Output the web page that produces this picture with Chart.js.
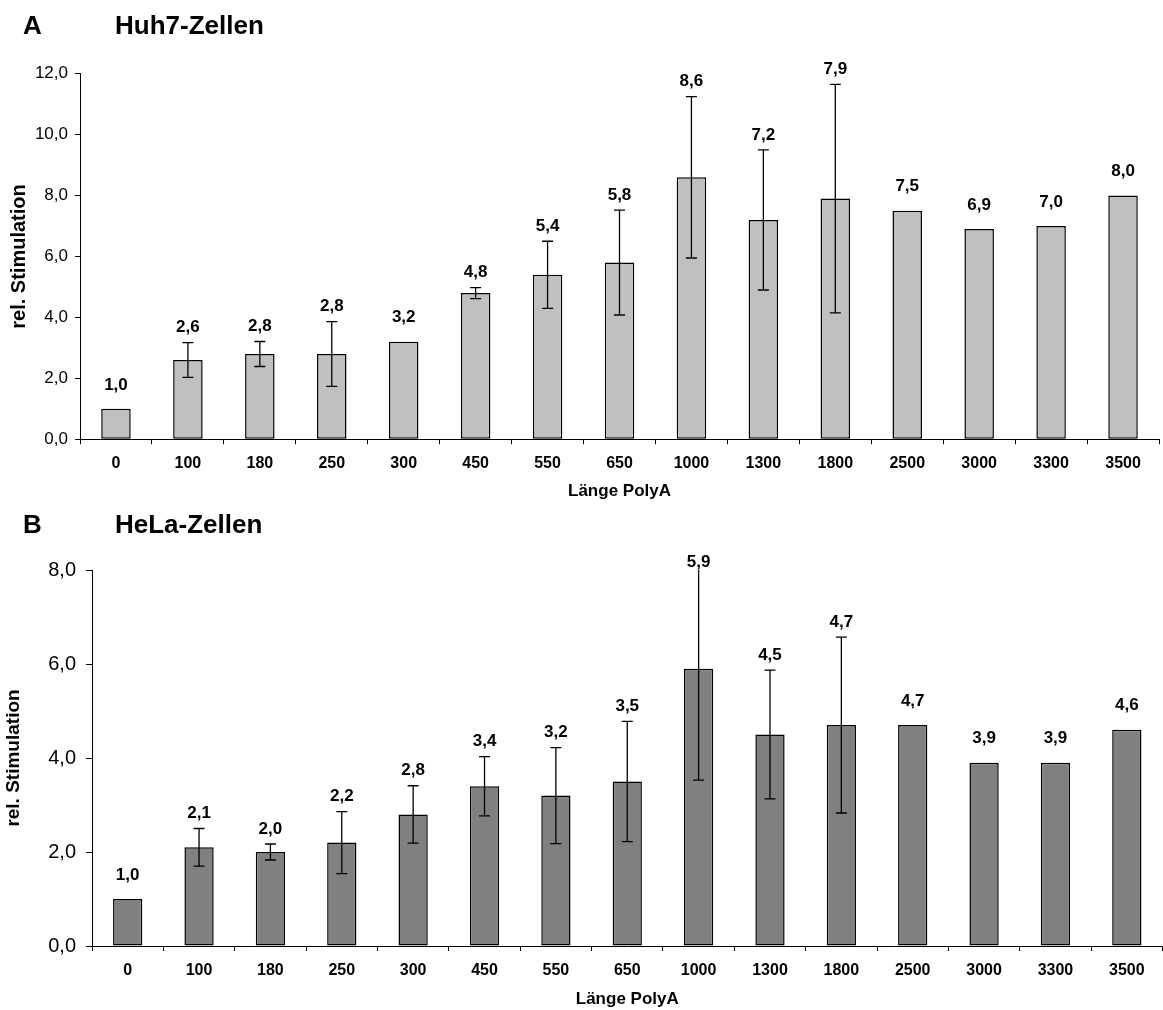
<!DOCTYPE html>
<html lang="de">
<head>
<meta charset="utf-8">
<title>PolyA-Länge und Stimulation</title>
<script src="https://cdn.jsdelivr.net/npm/chart.js@4.4.1/dist/chart.umd.min.js"></script>
<style>
  html, body { margin: 0; padding: 0; background: #fff; }
  body { width: 1163px; height: 1010px; position: relative; overflow: hidden;
         font-family: "Liberation Sans", Arial, sans-serif; }
  canvas { position: absolute; left: 0; }
  #chartA { top: 0; }
  #chartB { top: 510px; }
  .head { position: absolute; font-weight: bold; font-size: 26px; line-height: 26px;
          color: #000; white-space: nowrap; }
</style>
</head>
<body>
<canvas id="chartA" width="1163" height="510"></canvas>
<canvas id="chartB" width="1163" height="500"></canvas>
<div class="head" style="left:23px;top:12px">A</div>
<div class="head" style="left:115px;top:12px">Huh7-Zellen</div>
<div class="head" style="left:23px;top:511px">B</div>
<div class="head" style="left:115px;top:511px">HeLa-Zellen</div>
<script>
// PolyA tail lengths (x-axis categories)
const categories = ['0', '100', '180', '250', '300', '450', '550', '650',
                    '1000', '1300', '1800', '2500', '3000', '3300', '3500'];

// Huh7 cells: relative stimulation and standard deviation
const huh7Values = [1.0, 2.6, 2.8, 2.8, 3.2, 4.8, 5.4, 5.8, 8.6, 7.2, 7.9, 7.5, 6.9, 7.0, 8.0];
const huh7Errors = [0, 0.57, 0.41, 1.06, 0, 0.18, 1.10, 1.72, 2.65, 2.30, 3.75, 0, 0, 0, 0];

// HeLa cells: relative stimulation and standard deviation
const helaValues = [1.0, 2.1, 2.0, 2.2, 2.8, 3.4, 3.2, 3.5, 5.9, 4.5, 4.7, 4.7, 3.9, 3.9, 4.6];
const helaErrors = [0, 0.40, 0.17, 0.66, 0.61, 0.63, 1.02, 1.28, 2.37, 1.37, 1.87, 0, 0, 0, 0];

// y-axis ranges
const huh7Axis = { max: 12, step: 2 };
const helaAxis = { max: 8, step: 2 };

const FONT = '"Liberation Sans", Arial, sans-serif';
const fmt = v => v.toFixed(1).replace('.', ',');

function buildChart(canvasId, values, errors, axis, look) {
  // whiskers (±SD) and value labels drawn on top of the bars
  const annotate = {
    id: 'annotate',
    afterDatasetsDraw(chart) {
      const { ctx, chartArea } = chart;
      const yScale = chart.scales.y;
      const bars = chart.getDatasetMeta(0).data;
      ctx.save();
      ctx.strokeStyle = '#000';
      ctx.lineWidth = 1.3;
      const half = 5.5;
      const tops = [];
      bars.forEach((bar, i) => {
        const e = errors[i];
        const barTop = yScale.getPixelForValue(values[i]);
        if (!e) { tops.push(barTop - 9); return; }
        const x = bar.x;
        let top = yScale.getPixelForValue(values[i] + e);
        const bottom = yScale.getPixelForValue(values[i] - e);
        const clipped = top < chartArea.top;
        if (clipped) top = chartArea.top;
        ctx.beginPath();
        ctx.moveTo(x, top); ctx.lineTo(x, bottom);
        if (!clipped) { ctx.moveTo(x - half, top); ctx.lineTo(x + half, top); }
        ctx.moveTo(x - half, bottom); ctx.lineTo(x + half, bottom);
        ctx.stroke();
        tops.push(top);
      });
      ctx.fillStyle = '#000';
      ctx.font = 'bold 17px ' + FONT;
      ctx.textAlign = 'center';
      ctx.textBaseline = 'middle';
      bars.forEach((bar, i) => {
        const y = Math.max(tops[i] - 15, chartArea.top - 8);
        ctx.fillText(fmt(values[i]), bar.x, y);
      });
      ctx.restore();
    }
  };

  return new Chart(document.getElementById(canvasId), {
    type: 'bar',
    data: {
      labels: categories,
      datasets: [{
        data: values,
        backgroundColor: look.fill,
        borderColor: '#000',
        borderWidth: 1.5,
        borderSkipped: false,
        barPercentage: 0.41,
        categoryPercentage: 1.0
      }]
    },
    options: {
      responsive: false,
      animation: false,
      devicePixelRatio: 1,
      layout: { padding: { top: look.top, right: look.right, left: 0, bottom: 0 } },
      plugins: { legend: { display: false }, tooltip: { enabled: false } },
      scales: {
        x: {
          type: 'category',
          grid: { display: true, drawOnChartArea: false, drawTicks: true, tickLength: 5,
                  color: '#000', offset: true },
          border: { display: true, color: '#000', width: 1 },
          ticks: { color: '#000', font: { family: FONT, size: 16, weight: 'bold' },
                   padding: 10, maxRotation: 0, autoSkip: false },
          title: { display: true, text: 'Länge PolyA', color: '#000',
                   font: { family: FONT, size: 17, weight: 'bold' },
                   padding: { top: 0, bottom: look.xTitlePad } },
          afterFit(scale) { scale.height = look.xHeight; }
        },
        y: {
          min: 0, max: axis.max,
          grid: { display: true, drawOnChartArea: false, drawTicks: true,
                  tickLength: look.yTick, color: '#000' },
          border: { display: true, color: '#000', width: 1 },
          ticks: { stepSize: axis.step, color: '#000', padding: look.yPad,
                   font: { family: FONT, size: look.yFont },
                   callback: v => fmt(v) },
          title: { display: true, text: 'rel. Stimulation', color: '#000',
                   font: { family: FONT, size: look.yTitleFont, weight: 'bold' },
                   padding: { top: look.yTitlePad, bottom: 0 } },
          afterFit(scale) { scale.width = look.yWidth; }
        }
      }
    },
    plugins: [annotate]
  });
}

buildChart('chartA', huh7Values, huh7Errors, huh7Axis, {
  fill: '#C0C0C0', top: 73.7, right: 4, xHeight: 70.7, xTitlePad: 8.8,
  yWidth: 80, yTick: 5, yPad: 7, yFont: 17, yTitleFont: 20, yTitlePad: 7
});

buildChart('chartB', helaValues, helaErrors, helaAxis, {
  fill: '#808080', top: 60, right: 0.5, xHeight: 64, xTitlePad: 0,
  yWidth: 92, yTick: 6, yPad: 10, yFont: 20, yTitleFont: 19, yTitlePad: 2.6
});
</script>
</body>
</html>
